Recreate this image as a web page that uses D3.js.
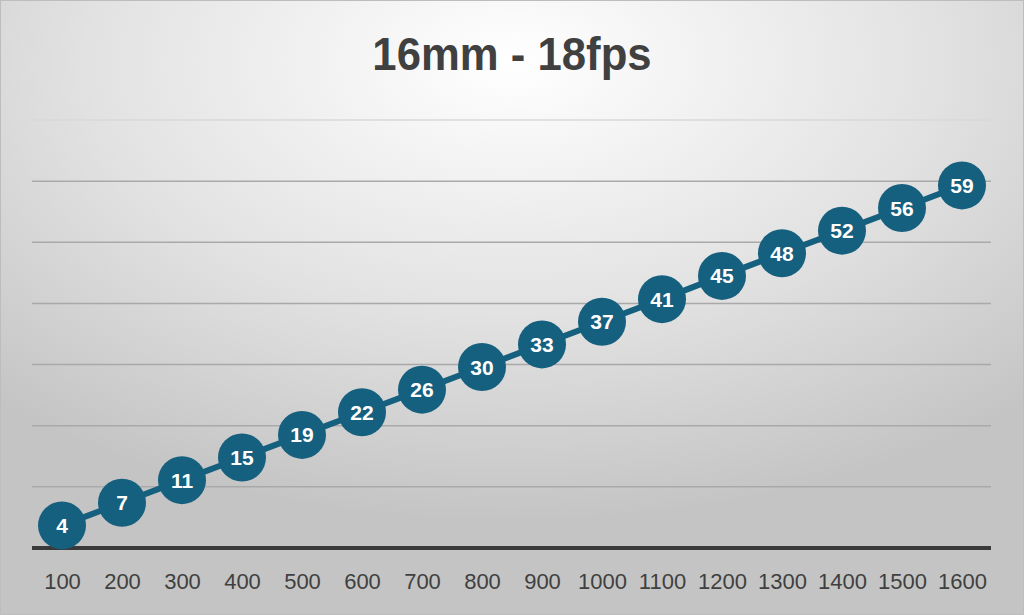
<!DOCTYPE html>
<html><head><meta charset="utf-8">
<script src="https://cdn.jsdelivr.net/npm/d3@7"></script>
<style>body{margin:0;overflow:hidden;}</style>
</head><body>
<svg id="c" width="1024" height="615"></svg>
<script>
const categories = ["100","200","300","400","500","600","700","800","900","1000","1100","1200","1300","1400","1500","1600"];
const values = [3.7,7.4,11.1,14.8,18.5,22.2,25.9,29.6,33.3,37.0,40.7,44.5,48.2,51.9,55.6,59.3];
const labels = ["4","7","11","15","19","22","26","30","33","37","41","45","48","52","56","59"];
const yTicks = [0,10,20,30,40,50,60,70];
const title = "16mm - 18fps";

const svg = d3.select("#c");
const defs = svg.append("defs");
const g = defs.append("radialGradient").attr("id","bg")
  .attr("cx","50%").attr("cy","10%").attr("r","75%")
  .attr("gradientUnits","objectBoundingBox");
g.append("stop").attr("offset","0%").attr("stop-color","#ffffff");
g.append("stop").attr("offset","55%").attr("stop-color","#e2e2e2");
g.append("stop").attr("offset","100%").attr("stop-color","#c4c4c4");
svg.append("rect").attr("width",1024).attr("height",615).attr("fill","url(#bg)");
svg.append("rect").attr("x",0.5).attr("y",0.5).attr("width",1023).attr("height",614)
  .attr("fill","none").attr("stroke","#bdbdbd").attr("stroke-width",1);

const x = d3.scalePoint().domain(categories).range([32,992]).padding(0.5);
const y = d3.scaleLinear().domain([0,70]).range([548,120]);

svg.append("text").attr("transform","translate(512,70) scale(0.95,1)").attr("text-anchor","middle")
  .attr("font-family","'Liberation Sans',Arial,sans-serif")
  .attr("font-weight","bold").attr("font-size",46).attr("fill","#404040").text(title);

svg.append("g").selectAll("line").data(yTicks.filter(d=>d>0)).join("line")
  .attr("x1",32).attr("x2",991).attr("y1",d=>y(d)).attr("y2",d=>y(d))
  .attr("stroke",d=>d===70?"#d9d9d9":"#a9a9a9").attr("stroke-width",1.5);

const xAxis = svg.append("g").attr("transform","translate(0,548)")
  .call(d3.axisBottom(x).tickSize(0));
xAxis.select(".domain").remove();
xAxis.selectAll("text").attr("y",41).attr("dy",0).attr("font-family","'Liberation Sans',Arial,sans-serif")
  .attr("font-size",22).attr("fill","#404040");
svg.append("line").attr("x1",32).attr("x2",991).attr("y1",548).attr("y2",548)
  .attr("stroke","#3a3a3a").attr("stroke-width",4);

const color = "#16607f";
const line = d3.line().x((d,i)=>x(categories[i])).y(d=>y(d));
svg.append("path").datum(values).attr("d",line).attr("fill","none")
  .attr("stroke",color).attr("stroke-width",6);
const pts = svg.append("g").selectAll("g").data(values).join("g")
  .attr("transform",(d,i)=>`translate(${x(categories[i])},${y(d)})`);
pts.append("circle").attr("r",24).attr("fill",color);
pts.append("text").attr("text-anchor","middle").attr("dy","0.36em")
  .attr("font-family","'Liberation Sans',Arial,sans-serif").attr("font-weight","bold")
  .attr("font-size",21).attr("fill","#ffffff").text((d,i)=>labels[i]);
</script>
</body></html>
